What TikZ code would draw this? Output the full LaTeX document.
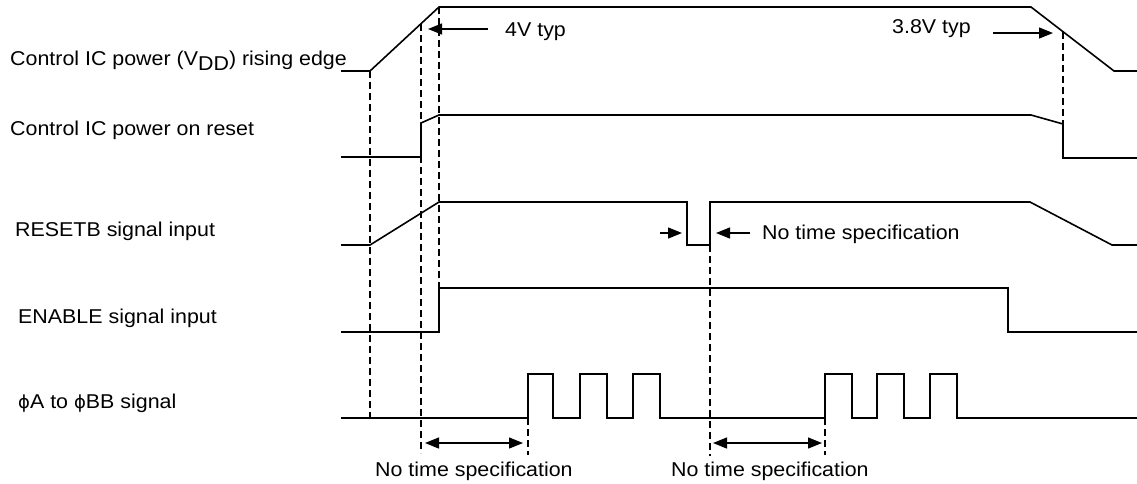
\documentclass[tikz,border=0pt]{standalone}
\usepackage{fontspec}
\setmainfont{Liberation Sans}[FakeStretch=1.07]
\newfontfamily\dvfont{DejaVu Sans}
\newcommand{\myphi}{{\dvfont\fontsize{18}{22}\selectfont ϕ}}
\usetikzlibrary{arrows.meta}
\begin{document}
\begin{tikzpicture}[x=1pt,y=-1pt,
  sig/.style={line width=1.6pt,line join=miter},
  guide/.style={line width=1.3pt,dash pattern=on 7pt off 4pt},
  ann/.style={line width=1.3pt,-{Triangle[length=14pt,width=11pt]}},
  ann2/.style={line width=1.3pt,{Triangle[length=14pt,width=11pt]}-{Triangle[length=14pt,width=11pt]}},
  lbl/.style={anchor=base west,inner sep=0pt,font=\fontsize{20}{24}\selectfont}]
\useasboundingbox (0,0) rectangle (1137,483);
% labels
\node[lbl] (l1) at (10,65) {Control IC power (V\raisebox{-5pt}{DD}) rising edge};
\node[lbl] (l2) at (10,135) {Control IC power on reset};
\node[lbl] (l3) at (15,236) {RESETB signal input};
\node[lbl] (l4) at (18,323) {ENABLE signal input};
\node[lbl] (l5) at (18,408) {\myphi A to \myphi BB signal};
\node[lbl] (t1) at (505,36) {4V typ};
\node[lbl] (t2) at (892,33) {3.8V typ};
\node[lbl] (t3) at (762,239) {No time specification};
\node[lbl] (t4) at (375,476) {No time specification};
\node[lbl] (t5) at (671,476) {No time specification};
% signals
\draw[sig] (341,71) -- (370,71) -- (439,7) -- (1031,7) -- (1114,71) -- (1137,71);
\draw[sig] (341,157) -- (421,157) -- (421,123) -- (439,115) -- (1031,115) -- (1063,124) -- (1063,158) -- (1137,158);
\draw[sig] (341,245) -- (370,245) -- (439,202) -- (687,202) -- (687,245) -- (710,245) -- (710,202) -- (1030,202) -- (1112,245) -- (1137,245);
\draw[sig] (341,332) -- (439,332) -- (439,288) -- (1008,288) -- (1008,332) -- (1137,332);
\draw[sig] (341,418) -- (528,418) -- (528,374) -- (553,374) -- (553,418) -- (580,418) -- (580,374) -- (607,374) -- (607,418) -- (633,418) -- (633,374) -- (660,374) -- (660,418)
  -- (825,418) -- (825,374) -- (852,374) -- (852,418) -- (877,418) -- (877,374) -- (904,374) -- (904,418) -- (930,418) -- (930,374) -- (957,374) -- (957,418) -- (1137,418);
% guide lines
\coordinate (g1a) at (370,71);  \coordinate (g1b) at (370,418);
\coordinate (g2a) at (421,24);  \coordinate (g2b) at (421,453);
\coordinate (g3a) at (439,7);   \coordinate (g3b) at (439,288);
\coordinate (g4a) at (1063,32); \coordinate (g4b) at (1063,124);
\coordinate (g5a) at (710,245); \coordinate (g5b) at (710,456);
\coordinate (g6a) at (528,418); \coordinate (g6b) at (528,455);
\coordinate (g7a) at (825,418); \coordinate (g7b) at (825,455);
\foreach \g in {1,...,7} {\draw[guide] (g\g a) -- (g\g b);}
% annotation arrows
\coordinate (a1s) at (488,29);  \coordinate (a1e) at (428,29);
\coordinate (a2s) at (993,33);  \coordinate (a2e) at (1053,33);
\coordinate (a3s) at (660,233); \coordinate (a3e) at (682,233);
\coordinate (a4s) at (750,233); \coordinate (a4e) at (716,233);
\coordinate (b1s) at (425,443); \coordinate (b1e) at (523,443);
\coordinate (b2s) at (713,443); \coordinate (b2e) at (822,443);
\draw[ann] (a1s) -- (a1e);
\draw[ann] (a2s) -- (a2e);
\draw[ann] (a3s) -- (a3e);
\draw[ann] (a4s) -- (a4e);
\draw[ann2] (b1s) -- (b1e);
\draw[ann2] (b2s) -- (b2e);
\end{tikzpicture}
\end{document}
